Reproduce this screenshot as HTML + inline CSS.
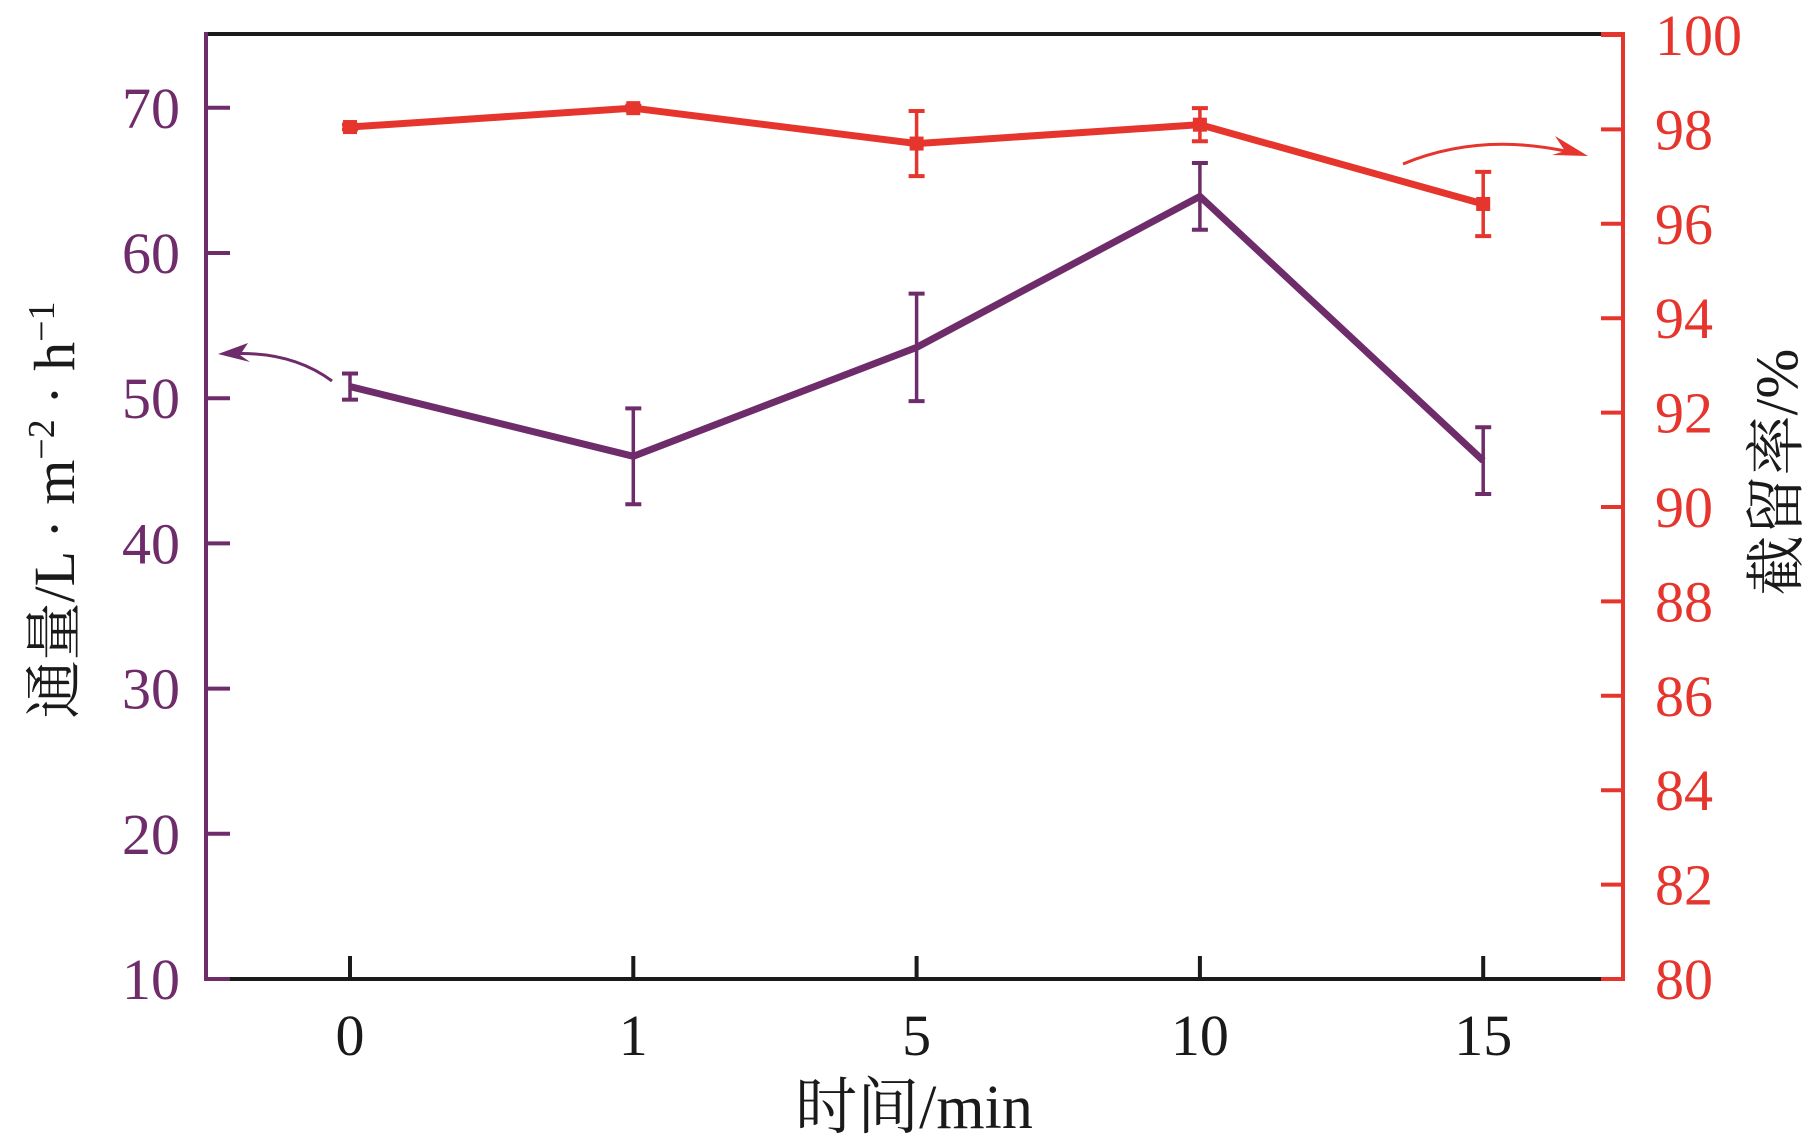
<!DOCTYPE html>
<html><head><meta charset="utf-8">
<style>
html,body{margin:0;padding:0;background:#fff;}
svg{display:block;}
text{font-family:"Liberation Serif","Noto Serif CJK SC","Noto Sans CJK SC",serif;}
</style></head>
<body>
<svg id="chart" width="1807" height="1146" viewBox="0 0 1807 1146" xmlns="http://www.w3.org/2000/svg">
<g id="axes"></g>
<g id="marks"></g>
<path d="M332,381 Q290,350 228,354" fill="none" stroke="#6e2c6b" stroke-width="3"/>
<polygon points="218,354 248,343 240,355 250,362" fill="#6e2c6b"/>
<path d="M1403,164 Q1480,132 1570,152" fill="none" stroke="#e5352d" stroke-width="3"/>
<polygon points="1588,156 1555,136 1565,151 1552,155" fill="#e5352d"/>
<text x="914" y="1128" font-size="62" text-anchor="middle" fill="#1a1a1a">时间/min</text>
<text transform="translate(74,510) rotate(-90)" font-size="58" text-anchor="middle" fill="#1a1a1a">通量/L · m<tspan dy="-20" font-size="38">−2</tspan><tspan dy="20"> · h</tspan><tspan dy="-20" font-size="38">−1</tspan></text>
<text transform="translate(1797,472) rotate(-90)" font-size="60" text-anchor="middle" fill="#1a1a1a">截留率/%</text>
</svg>
<script>
const categories = ["0","1","5","10","15"];
const fluxValues = [50.8, 46.0, 53.5, 63.9, 45.7];
const fluxErrors = [0.9, 3.3, 3.7, 2.3, 2.3];
const retentionValues = [98.05, 98.45, 97.7, 98.1, 96.42];
const retentionErrors = [0.05, 0.05, 0.69, 0.35, 0.68];
const leftTicks = [10,20,30,40,50,60,70];
const rightTicks = [80,82,84,86,88,90,92,94,96,98,100];

const NS="http://www.w3.org/2000/svg";
const X0=206,X1=1623,Y0=979,YT=34;
const PURPLE="#6e2c6b",RED="#e5352d",BLACK="#1a1a1a";
function xPos(i){return 350+i*283.3;}
function yLeft(v){return 979-(v-10)*14.52;}
function yRight(v){return 979-(v-80)*47.2;}
function mk(tag,attrs,parent){const e=document.createElementNS(NS,tag);for(const k in attrs)e.setAttribute(k,attrs[k]);parent.appendChild(e);return e;}
const axes=document.getElementById('axes'),marks=document.getElementById('marks');

let e;
e=mk('line',{x1:X0,y1:YT,x2:X1,y2:YT,stroke:BLACK,'stroke-width':4},axes);


e=mk('line',{x1:X0,y1:Y0,x2:X1,y2:Y0,stroke:BLACK,'stroke-width':4},axes);


e=mk('line',{x1:X0,y1:YT-2,x2:X0,y2:Y0+2,stroke:PURPLE,'stroke-width':4},axes);


e=mk('polyline',{points:`${X1-22},${YT} ${X1},${YT} ${X1},${Y0} ${X1-22},${Y0}`,fill:'none',stroke:RED,'stroke-width':4},axes);



leftTicks.forEach(v=>{const y=yLeft(v);
  e=mk('line',{x1:X0,y1:y,x2:X0+24,y2:y,stroke:PURPLE,'stroke-width':4},axes);
  
  
  e=mk('text',{x:180,y:y+20,'font-size':58,'text-anchor':'end',fill:PURPLE},axes);
  e.textContent=v;
  
  
});
rightTicks.forEach(v=>{const y=yRight(v);
  e=mk('line',{x1:X1-22,y1:y,x2:X1,y2:y,stroke:RED,'stroke-width':4},axes);
  
  
  e=mk('text',{x:1655,y:y+20,'font-size':58,'text-anchor':'start',fill:RED},axes);
  e.textContent=v;
  
  
});
categories.forEach((c,i)=>{const x=xPos(i);
  e=mk('line',{x1:x,y1:Y0,x2:x,y2:Y0-23,stroke:BLACK,'stroke-width':4},axes);
  
  
  e=mk('text',{x:x,y:1055,'font-size':58,'text-anchor':'middle',fill:BLACK},axes);
  e.textContent=c;
  
  
});

function series(vals,errs,yf,color,name){
  const pts=vals.map((v,i)=>xPos(i)+','+yf(v)).join(' ');
  let p=mk('polyline',{points:pts,fill:'none',stroke:color,'stroke-width':7,'stroke-linejoin':'miter'},marks);
  
  
  vals.forEach((v,i)=>{const x=xPos(i),yh=yf(v+errs[i]),yl=yf(v-errs[i]);
    const g=mk('g',{},marks);
    
    
    mk('line',{x1:x,y1:yh,x2:x,y2:yl,stroke:color,'stroke-width':3.5},g);
    mk('line',{x1:x-8,y1:yh,x2:x+8,y2:yh,stroke:color,'stroke-width':4},g);
    mk('line',{x1:x-8,y1:yl,x2:x+8,y2:yl,stroke:color,'stroke-width':4},g);
    if(name==='retention'){
      const m=mk('rect',{x:x-7,y:yf(v)-7,width:14,height:14,fill:color},marks);
      
      
    }
  });
}
series(retentionValues,retentionErrors,yRight,RED,'retention');
series(fluxValues,fluxErrors,yLeft,PURPLE,'flux');
</script>
</body></html>
